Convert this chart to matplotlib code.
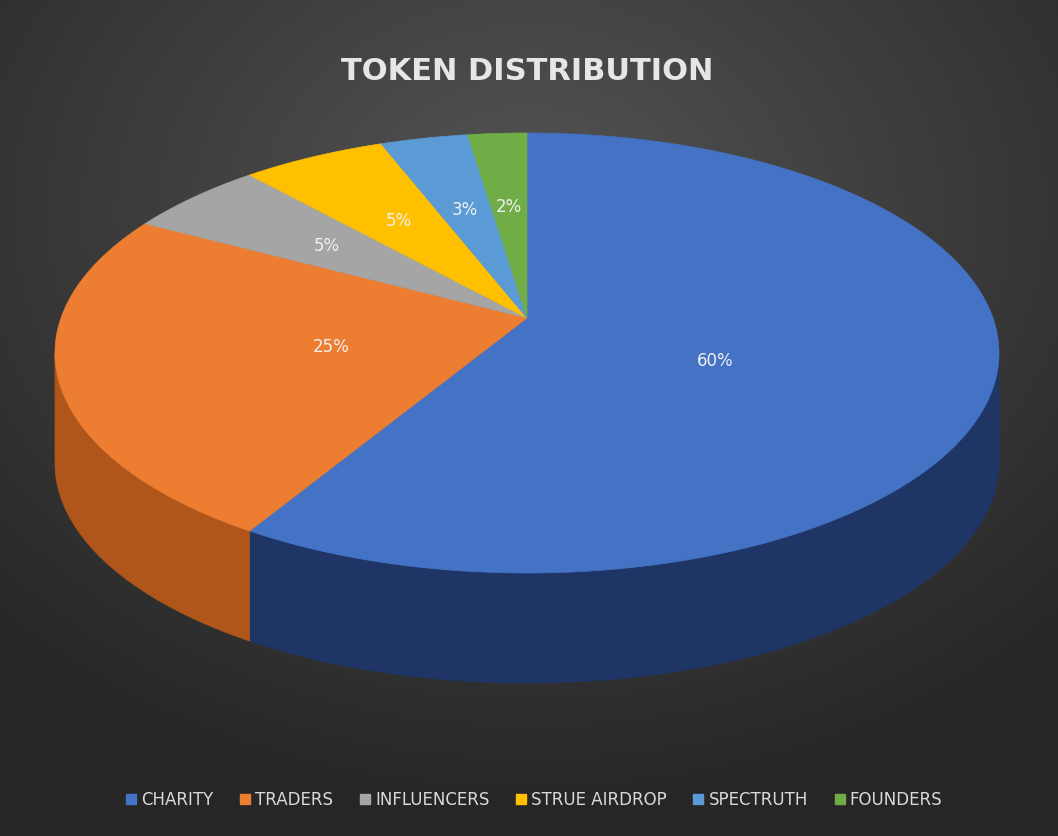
import numpy as np
import matplotlib.pyplot as plt
from matplotlib.patches import Polygon, Patch

labels = ["CHARITY", "TRADERS", "INFLUENCERS", "STRUE AIRDROP", "SPECTRUTH", "FOUNDERS"]
shares = [60, 25, 5, 5, 3, 2]
colors = ["#4472C4", "#ED7D31", "#A5A5A5", "#FFC000", "#5B9BD5", "#70AD47"]
side_colors = ["#1E3566", "#B0561A", "#7A7A7A", "#B88A00", "#3D6E9C", "#4E7A31"]

W, H = 1058, 836
cx, cy, rx, ry, depth = 527, 353, 472, 220, 110
apex_y = 318

fig = plt.figure(figsize=(W / 100, H / 100), dpi=100)
ax = fig.add_axes([0, 0, 1, 1])
ax.set_xlim(0, W)
ax.set_ylim(H, 0)
ax.axis("off")

# radial gradient background, lighter near the top centre
yy, xx = np.mgrid[0:H, 0:W]
d = np.sqrt(((xx - W / 2) / W) ** 2 + ((yy - H * 0.25) / H) ** 2)
g = np.clip(0.33 - 0.25 * d, 0.15, 0.33)
ax.imshow(np.dstack([g, g, g]), extent=[0, W, H, 0], zorder=0)


def edge(t):
    return cx + rx * np.sin(t), cy - ry * np.cos(t)


fracs = np.array(shares) / sum(shares)
bounds = np.concatenate([[0], np.cumsum(fracs)]) * 2 * np.pi

# side walls (visible front half)
for i in range(len(shares)):
    a, b = max(bounds[i], np.pi / 2), min(bounds[i + 1], 3 * np.pi / 2)
    if a >= b:
        continue
    t = np.linspace(a, b, 100)
    x, y = edge(t)
    pts = np.column_stack([np.concatenate([x, x[::-1]]),
                           np.concatenate([y, y[::-1] + depth])])
    ax.add_patch(Polygon(pts, closed=True, fc=side_colors[i], ec=side_colors[i], lw=0.5, zorder=2))

# top face
for i in range(len(shares)):
    t = np.linspace(bounds[i], bounds[i + 1], 200)
    x, y = edge(t)
    pts = np.column_stack([np.concatenate([[cx], x]), np.concatenate([[apex_y], y])])
    ax.add_patch(Polygon(pts, closed=True, fc=colors[i], ec=colors[i], lw=0.5, zorder=3))
    mid = (bounds[i] + bounds[i + 1]) / 2
    r = 0.42 if shares[i] > 10 else 0.6
    ex, ey = edge(mid)
    lx, ly = cx + (ex - cx) * r, apex_y + (ey - apex_y) * r
    ax.text(lx, ly, f"{shares[i]}%", color="#F0F0F0", fontsize=12,
            ha="center", va="center", zorder=4)

ax.text(W / 2 - 2, 72, "TOKEN DISTRIBUTION", color="#E6E6E6", fontsize=22,
        fontweight="bold", ha="center", va="center", zorder=5)

handles = [Patch(fc=c, ec=c) for c in colors]
fig.legend(handles, labels, loc="center", bbox_to_anchor=(0.505, 1 - 800 / H), ncol=6,
           frameon=False, fontsize=12, labelcolor="#D9D9D9", handlelength=0.6,
           handleheight=0.6, handletextpad=0.3, columnspacing=1.6)

fig.savefig("out.png", dpi=100)
